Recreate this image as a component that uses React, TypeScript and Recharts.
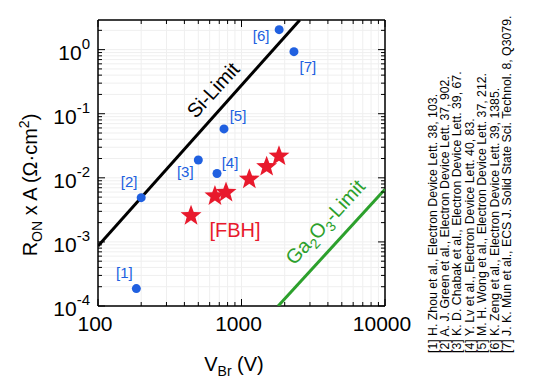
import React from "react";
import { ScatterChart, Scatter, XAxis, YAxis, CartesianGrid } from "recharts";

// Unipolar limit lines (end points)
const siLimitV = [100, 2550];
const siLimitR = [8.6e-4, 2.9];
const ga2o3LimitV = [1800, 10000];
const ga2o3LimitR = [1.0e-4, 6.6e-3];

// Literature devices [1]..[7]
const refLabels = ["[1]", "[2]", "[3]", "[4]", "[5]", "[6]", "[7]"];
const refV = [185, 200, 500, 675, 755, 1830, 2320];
const refR = [1.87e-4, 4.9e-3, 0.019, 0.0117, 0.058, 2.05, 0.93];

// FBH devices
const fbhV = [445, 653, 780, 1134, 1497, 1825];
const fbhR = [2.56e-3, 5.2e-3, 5.9e-3, 9.5e-3, 0.0149, 0.0218];

const xMajor = [100, 1000, 10000];
const xMinor = [200, 300, 400, 500, 600, 700, 800, 900, 2000, 3000, 4000, 5000, 6000, 7000, 8000, 9000];
const yMajor = [1e-4, 1e-3, 1e-2, 1e-1, 1];
const yMinor = [
  2e-4, 3e-4, 4e-4, 5e-4, 6e-4, 7e-4, 8e-4, 9e-4,
  2e-3, 3e-3, 4e-3, 5e-3, 6e-3, 7e-3, 8e-3, 9e-3,
  2e-2, 3e-2, 4e-2, 5e-2, 6e-2, 7e-2, 8e-2, 9e-2,
  2e-1, 3e-1, 4e-1, 5e-1, 6e-1, 7e-1, 8e-1, 9e-1,
  2,
];

const citations = [
  "[1] H. Zhou et al., Electron Device Lett. 38, 103.",
  "[2] A. J. Green et al., Electron Device Lett. 37, 902.",
  "[3] K. D. Chabak et al., Electron Device Lett. 39, 67.",
  "[4] Y. Lv et al., Electron Device Lett. 40, 83.",
  "[5] M. H. Wong et al., Electron Device Lett. 37, 212.",
  "[6] K. Zeng et al., Electron Device Lett. 39, 1385.",
  "[7] J. K. Mun et al., ECS J. Solid State Sci. Technol. 8, Q3079.",
];

// label offsets for [1]..[7], in px relative to the dot
const labelDx = [-12, -12, -13, 13, 14, -18, 14];
const labelDy = [-16, -16, 12, -11, -13, 6, 15];

const FONT = "Arial, 'Liberation Sans', sans-serif";
const BLUE = "#2060e0";
const RED = "#e8192c";
const GREEN = "#2ca02c";

const xTicks = [...xMajor, ...xMinor].sort((a, b) => a - b);
const yTicks = [...yMajor, ...yMinor].sort((a, b) => a - b);

const isMajor = (v: number) => {
  const l = Math.log10(v);
  return Math.abs(l - Math.round(l)) < 1e-6;
};

const BottomTick = ({ x, y, payload }: any) => {
  const major = isMajor(payload.value);
  return (
    <g>
      <line x1={x} y1={y} x2={x} y2={y - (major ? 7 : 4)} stroke="#000" strokeWidth={1} />
      {major && (
        <text x={x - 3} y={y + 25} textAnchor="middle" fontSize={21} fontFamily={FONT} fill="#000">
          {payload.value}
        </text>
      )}
    </g>
  );
};

const TopTick = ({ x, y, payload }: any) => {
  const major = isMajor(payload.value);
  return <line x1={x} y1={y} x2={x} y2={y + (major ? 7 : 4)} stroke="#000" strokeWidth={1} />;
};

const LeftTick = ({ x, y, payload }: any) => {
  const major = isMajor(payload.value);
  const exp = Math.round(Math.log10(payload.value));
  return (
    <g>
      <line x1={x} y1={y} x2={x + (major ? 7 : 4)} y2={y} stroke="#000" strokeWidth={1} />
      {major && (
        <text x={x - 8} y={y + 10} textAnchor="end" fontSize={21} fontFamily={FONT} fill="#000">
          10
          <tspan dy={-11} fontSize={15}>
            {exp === 0 ? "0" : `-${-exp}`}
          </tspan>
        </text>
      )}
    </g>
  );
};

const RightTick = ({ x, y, payload }: any) => {
  const major = isMajor(payload.value);
  return <line x1={x} y1={y} x2={x - (major ? 7 : 4)} y2={y} stroke="#000" strokeWidth={1} />;
};

const NoShape = () => <g />;

const RefDot = ({ cx, cy, payload }: any) => (
  <g>
    <circle cx={cx} cy={cy} r={4.5} fill={BLUE} />
    <text
      x={cx + labelDx[payload.i]}
      y={cy + labelDy[payload.i]}
      dy="0.35em"
      textAnchor="middle"
      fontSize={15}
      fontFamily={FONT}
      fill={BLUE}
    >
      {payload.label}
    </text>
  </g>
);

const Star = ({ cx, cy }: any) => {
  const pts: string[] = [];
  for (let k = 0; k < 10; k++) {
    const rad = k % 2 === 0 ? 11 : 4.6;
    const a = ((-90 + k * 36) * Math.PI) / 180;
    pts.push(`${cx + rad * Math.cos(a)},${cy + rad * Math.sin(a)}`);
  }
  return <polygon points={pts.join(" ")} fill={RED} />;
};

export default function App() {
  const siData = siLimitV.map((v, i) => ({ v, r: siLimitR[i] }));
  const gaData = ga2o3LimitV.map((v, i) => ({ v, r: ga2o3LimitR[i] }));
  const refData = refV.map((v, i) => ({ v, r: refR[i], label: refLabels[i], i }));
  const fbhData = fbhV.map((v, i) => ({ v, r: fbhR[i] }));

  return (
    <div style={{ position: "absolute", left: 0, top: 0, width: 540, height: 386, background: "#fff", fontFamily: FONT }}>
      <ScatterChart width={540} height={386} margin={{ top: 19, right: 154, bottom: 0, left: 0 }}>
        <CartesianGrid stroke="#efefef" strokeWidth={1} />
        <XAxis
          type="number"
          dataKey="v"
          scale="log"
          domain={[100, 10000]}
          allowDataOverflow
          ticks={xTicks}
          interval={0}
          tickSize={0}
          tickMargin={0}
          tickLine={false}
          tick={<BottomTick />}
          height={80}
          axisLine={{ stroke: "#000", strokeWidth: 1.5 }}
        />
        <XAxis
          xAxisId="top"
          orientation="top"
          type="number"
          dataKey="v"
          scale="log"
          domain={[100, 10000]}
          allowDataOverflow
          ticks={xTicks}
          interval={0}
          tickSize={0}
          tickMargin={0}
          tickLine={false}
          tick={<TopTick />}
          height={1}
          axisLine={{ stroke: "#000", strokeWidth: 1.5 }}
        />
        <YAxis
          type="number"
          dataKey="r"
          scale="log"
          domain={[1e-4, 2.9]}
          allowDataOverflow
          ticks={yTicks}
          interval={0}
          tickSize={0}
          tickMargin={0}
          tickLine={false}
          tick={<LeftTick />}
          width={98}
          axisLine={{ stroke: "#000", strokeWidth: 1.5 }}
        />
        <YAxis
          yAxisId="right"
          orientation="right"
          type="number"
          dataKey="r"
          scale="log"
          domain={[1e-4, 2.9]}
          allowDataOverflow
          ticks={yTicks}
          interval={0}
          tickSize={0}
          tickMargin={0}
          tickLine={false}
          tick={<RightTick />}
          width={1}
          axisLine={{ stroke: "#000", strokeWidth: 1.5 }}
        />
        <Scatter data={siData} line={{ stroke: "#000", strokeWidth: 3 }} shape={NoShape} isAnimationActive={false} />
        <Scatter data={gaData} line={{ stroke: GREEN, strokeWidth: 3 }} shape={NoShape} isAnimationActive={false} />
        <Scatter data={refData} shape={RefDot} isAnimationActive={false} />
        <Scatter data={fbhData} shape={Star} isAnimationActive={false} />
      </ScatterChart>

      <svg width={540} height={386} style={{ position: "absolute", left: 0, top: 0, pointerEvents: "none" }}>
        <g fontFamily={FONT}>
          <text transform="translate(37,185) rotate(-90)" textAnchor="middle" fontSize={20} fill="#000">
            R<tspan dy={5} fontSize={14}>ON</tspan>
            <tspan dy={-5}> x A (Ω·cm</tspan>
            <tspan dy={-8} fontSize={14}>2</tspan>
            <tspan dy={8}>)</tspan>
          </text>
          <text x={234} y={371} textAnchor="middle" fontSize={20} fill="#000">
            V<tspan dy={5} fontSize={14}>Br</tspan>
            <tspan dy={-5}> (V)</tspan>
          </text>
          <text transform="translate(213,90) rotate(-47.7)" dy="0.35em" textAnchor="middle" fontSize={20} fill="#000">
            Si-Limit
          </text>
          <text transform="translate(325,222) rotate(-47.6)" dy="0.35em" textAnchor="middle" fontSize={20} fill={GREEN}>
            Ga<tspan dy={5} fontSize={14}>2</tspan>
            <tspan dy={-5}>O</tspan>
            <tspan dy={5} fontSize={14}>3</tspan>
            <tspan dy={-5}>-Limit</tspan>
          </text>
          <text x={235} y={237} textAnchor="middle" fontSize={20} fill={RED}>
            [FBH]
          </text>
          {citations.map((c, i) => (
            <text key={c} transform={`translate(${436.5 + i * 12.4},353) rotate(-90)`} fontSize={12.3} fill="#000">
              {c}
            </text>
          ))}
        </g>
      </svg>
    </div>
  );
}
